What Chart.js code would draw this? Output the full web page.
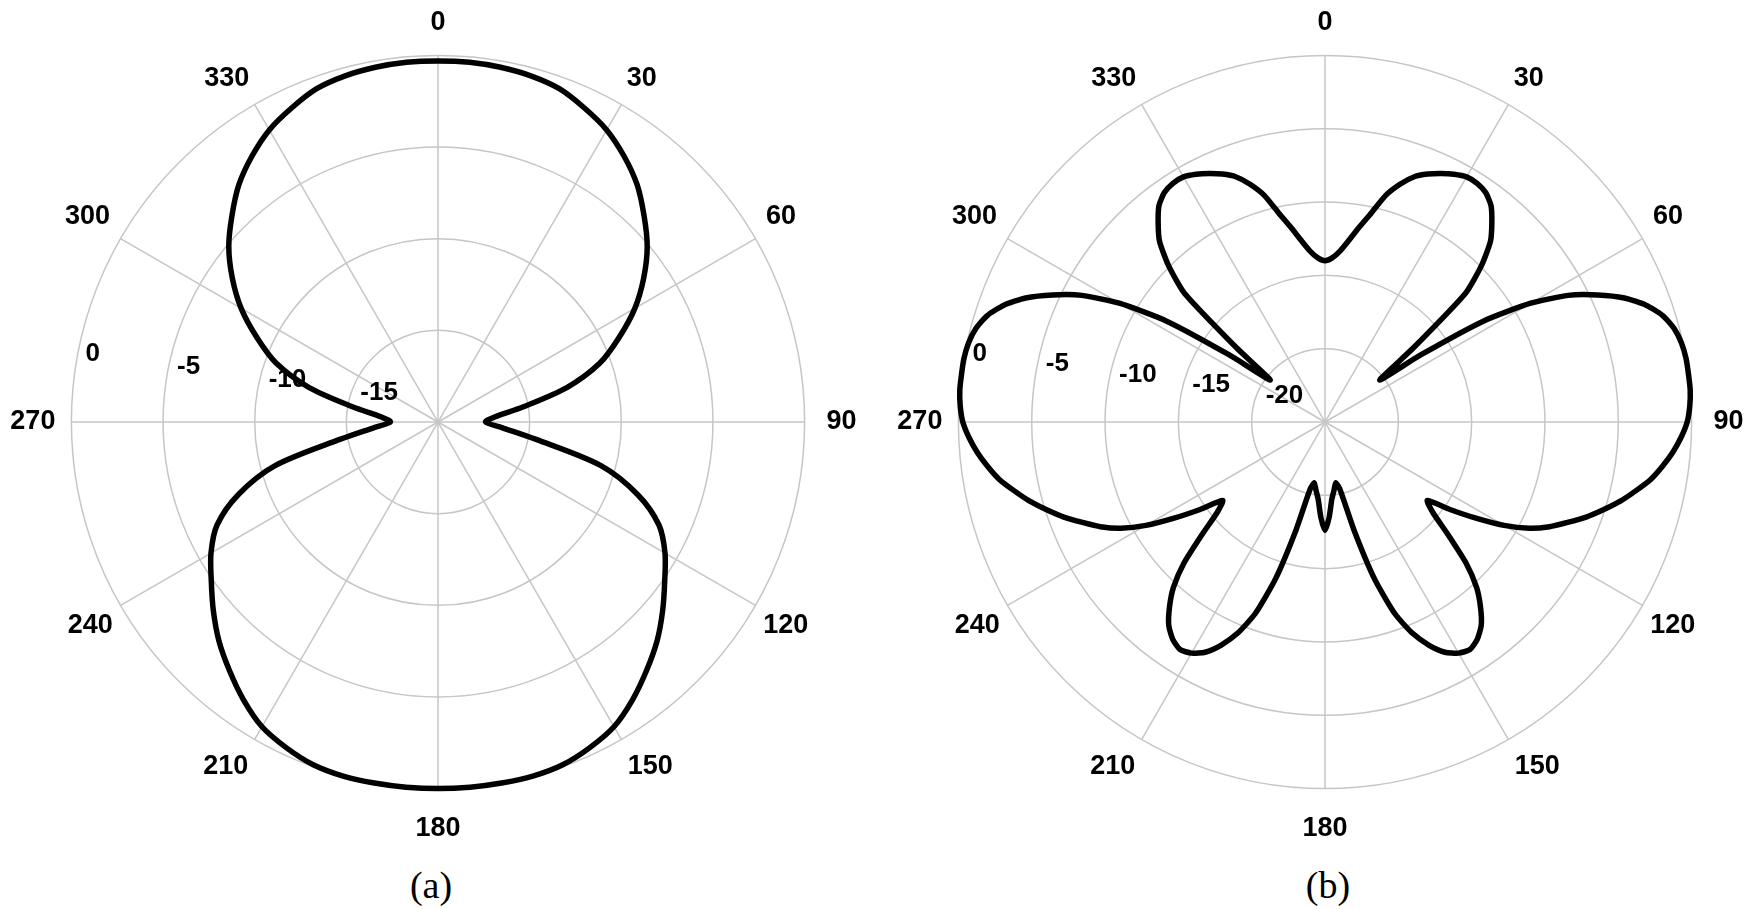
<!DOCTYPE html>
<html>
<head>
<meta charset="utf-8">
<script src="https://cdn.jsdelivr.net/npm/chart.js@4.4.1/dist/chart.umd.min.js"></script>
<style>
  body { margin: 0; background: #fff; }
  #wrap { position: relative; width: 1753px; height: 909px; overflow: hidden; background: #fff; }
  canvas { position: absolute; }
  .cap { position: absolute; width: 100px; text-align: center; font-family: "Liberation Serif", "Times New Roman", serif; font-size: 38px; line-height: 40px; color: #000; }
</style>
</head>
<body>
<div id="wrap">
  <canvas id="chartA" width="1000" height="846" style="left:-62px;top:3px"></canvas>
  <canvas id="chartB" width="1000" height="846" style="left:825px;top:3px"></canvas>
  <div class="cap" style="left:381px;top:865px">(a)</div>
  <div class="cap" style="left:1278px;top:865px">(b)</div>
</div>
<script>
/* global Chart */

// angle (deg) of each sample, clockwise from top
const anglesA = Array.from({length: 72}, (_, i) => i * 5);
const anglesB = Array.from({length: 144}, (_, i) => i * 2.5);

// normalized gain in dB
const gainA = [
  -0.3, -0.3, -0.35, -0.45, -0.65, -1.1, -1.6, -2.3, -3.1, -4.1, -5.1, -6.3,
  -7.6, -9.1, -10.6, -12.7, -15.3, -16.9, -17.4, -16.5, -14.6, -10.8, -8.4, -6.7,
  -5.7, -4.9, -4.0, -3.1, -2.3, -1.5, -0.8, -0.4, -0.1, 0, 0, 0,
  0, 0, 0, 0, -0.1, -0.4, -0.8, -1.5, -2.3, -3.1, -4.0, -4.9,
  -5.7, -6.7, -8.4, -10.8, -14.6, -16.5, -17.4, -16.9, -15.3, -12.7, -10.6, -9.1,
  -7.6, -6.3, -5.1, -4.1, -3.1, -2.3, -1.6, -1.1, -0.65, -0.45, -0.35, -0.3
];

const gainB = [
  -14.0, -13.8, -13.3, -12.5, -11.5, -10.4, -9.0, -8.0, -7.2, -6.7, -6.3, -5.95,
  -5.7, -5.7, -5.9, -6.4, -7.3, -8.3, -9.9, -12.0, -17.1, -20.3, -17.0, -12.2,
  -8.8, -6.3, -4.5, -2.9, -1.7, -0.85, -0.35, -0.1, 0, 0, 0, -0.1,
  -0.3, -0.7, -1.2, -1.8, -2.45, -3.3, -4.15, -5.1, -6.05, -7.1, -8.1, -9.3,
  -10.9, -12.8, -14.6, -16.2, -15.4, -13.6, -11.4, -9.7, -8.5, -7.5, -6.9, -6.6,
  -6.8, -7.3, -8.2, -9.4, -11.1, -13.8, -17.4, -20.3, -20.8, -20.3, -19.7, -18.5,
  -17.6, -18.5, -19.7, -20.3, -20.8, -20.3, -17.4, -13.8, -11.1, -9.4, -8.2, -7.3,
  -6.8, -6.6, -6.9, -7.5, -8.5, -9.7, -11.4, -13.6, -15.4, -16.2, -14.6, -12.8,
  -10.9, -9.3, -8.1, -7.1, -6.05, -5.1, -4.15, -3.3, -2.45, -1.8, -1.2, -0.7,
  -0.3, -0.1, 0, 0, 0, -0.1, -0.35, -0.85, -1.7, -2.9, -4.5, -6.3,
  -8.8, -12.2, -17.0, -20.3, -17.1, -12.0, -9.9, -8.3, -7.3, -6.4, -5.9, -5.7,
  -5.7, -5.95, -6.3, -6.7, -7.2, -8.0, -9.0, -10.4, -11.5, -12.5, -13.3, -13.8
];

const GRID = '#c6c6c6';
// distance of each angle label from the outer ring
const labelPad = {0: 17, 30: 11, 60: 12, 90: 22, 120: 9, 150: 13, 180: 24, 210: 13, 240: 9, 270: 16, 300: 12, 330: 11};

// dB labels drawn just inside each ring, left of centre
const ringLabels = {
  id: 'ringLabels',
  beforeDatasetsDraw(chart) {
    const r = chart.scales.r;
    const ctx = chart.ctx;
    ctx.save();
    ctx.font = 'bold 26px "Liberation Sans", Arial, sans-serif';
    ctx.fillStyle = '#000';
    ctx.textAlign = 'left';
    ctx.textBaseline = 'middle';
    for (const t of r.ticks) {
      if (t.value === r.min) continue;
      const d = r.getDistanceFromCenterForValue(t.value);
      ctx.fillText(String(t.value), r.xCenter - d + 14, r.yCenter - 0.1435 * d - 16);
    }
    ctx.restore();
  }
};

function polar(id, angles, gains, minDb, tension) {
  const isMajor = a => a % 30 === 0;
  return new Chart(document.getElementById(id), {
    type: 'radar',
    data: {
      labels: angles,
      datasets: [{
        data: gains,
        borderColor: '#000',
        borderWidth: 5.5,
        backgroundColor: 'transparent',
        fill: false,
        pointRadius: 0,
        tension: tension
      }]
    },
    options: {
      responsive: false,
      animation: false,
      devicePixelRatio: 1,
      plugins: { legend: { display: false }, tooltip: { enabled: false } },
      scales: {
        r: {
          min: minDb,
          max: 0,
          ticks: { display: false, stepSize: 5 },
          grid: { circular: true, color: GRID, lineWidth: 1.5 },
          angleLines: {
            color: GRID,
            lineWidth: c => isMajor(angles[c.index]) ? 1.5 : 0
          },
          pointLabels: {
            callback: (lbl, i) => isMajor(angles[i]) ? String(angles[i]) : '',
            padding: c => labelPad[angles[c.index]] || 0,
            color: '#000',
            font: { family: '"Liberation Sans", Arial, sans-serif', size: 27, weight: 'bold' }
          }
        }
      }
    },
    plugins: [ringLabels]
  });
}

polar('chartA', anglesA, gainA, -20, 0.3);
polar('chartB', anglesB, gainB, -25, 0.2);
</script>
</body>
</html>
